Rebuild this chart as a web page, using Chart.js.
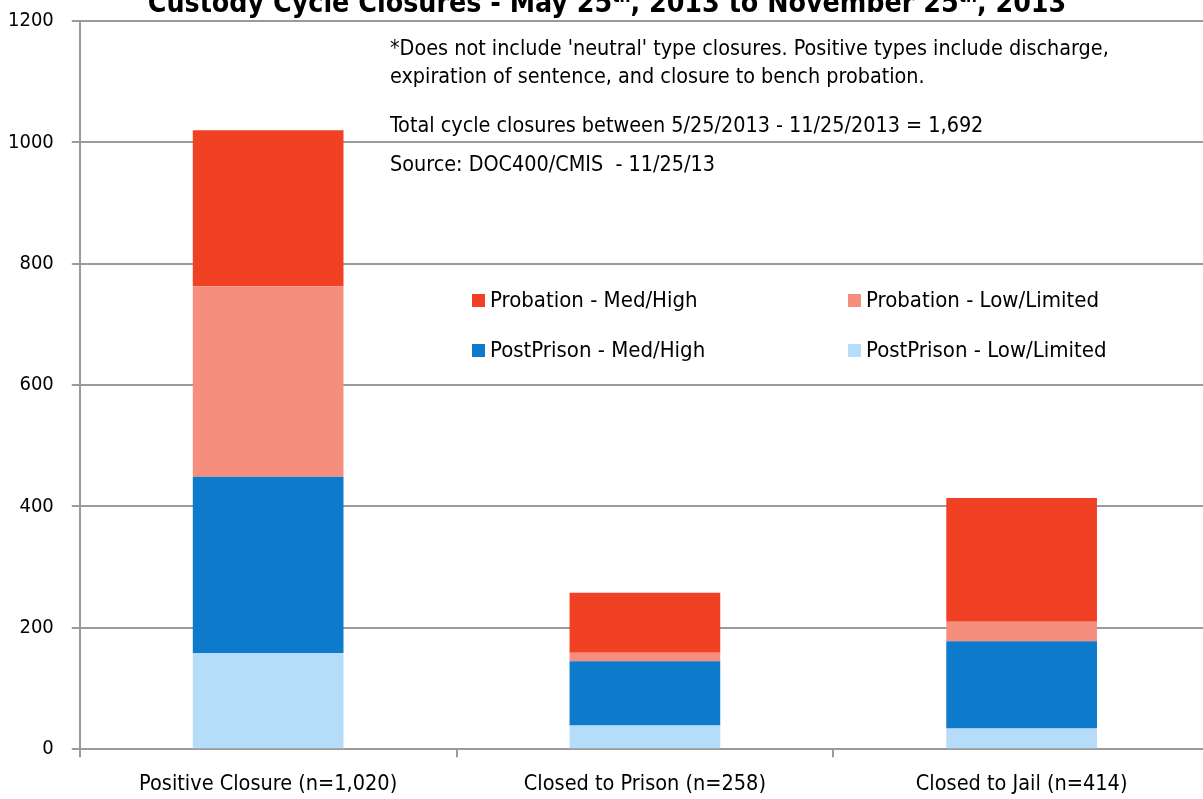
<!DOCTYPE html>
<html>
<head>
<meta charset="utf-8">
<title>Custody Cycle Closures</title>
<script src="https://cdn.jsdelivr.net/npm/chart.js@4.4.0/dist/chart.umd.min.js"></script>
<style>
    html, body { margin: 0; padding: 0; background: #fff; overflow: hidden; }
    #wrap { position: relative; top: -9px; width: 1210px; height: 824px; }
</style>
</head>
<body>
<div id="wrap"><canvas id="closuresChart"></canvas></div>
<script>
// Chart data
const categories = ['Positive Closure (n=1,020)', 'Closed to Prison (n=258)', 'Closed to Jail (n=414)'];
const postPrisonLow = [158, 39, 34];
const postPrisonMed = [291, 106, 144];
const probationLow = [314, 14, 32];
const probationMed = [257, 99, 204];

const titleParts = [
    ['Custody Cycle Closures - May 25', false],
    ['th', true],
    [', 2013 to November 25', false],
    ['th', true],
    [', 2013', false]
];
const noteLines = [
    "*Does not include 'neutral' type closures. Positive types include discharge,",
    'expiration of sentence, and closure to bench probation.',
    'Total cycle closures between 5/25/2013 - 11/25/2013 = 1,692',
    'Source: DOC400/CMIS  - 11/25/13'
];

const FONT = "'Liberation Sans Narrow', 'Arial Narrow', 'DejaVu Sans Condensed', sans-serif";
const GRID = '#9a9a9a';

// Title, notes and legend drawn on the canvas
// (canvas sits 9px above the page top, hence the +9 offsets)
const overlayPlugin = {
    id: 'overlay',
    afterDraw(chart) {
        const ctx = chart.ctx;
        ctx.save();
        ctx.fillStyle = '#000';
        ctx.textBaseline = 'alphabetic';
        ctx.textAlign = 'left';

        // title (cut off at the top like the original)
        const big = 'bold 28.3px ' + FONT;
        const small = 'bold 17px ' + FONT;
        let total = 0;
        titleParts.forEach(p => {
            ctx.font = p[1] ? small : big;
            total += ctx.measureText(p[0]).width;
        });
        let x = 607 - total / 2;
        titleParts.forEach(p => {
            ctx.font = p[1] ? small : big;
            ctx.fillText(p[0], x, p[1] ? 11 : 21);
            x += ctx.measureText(p[0]).width;
        });

        // notes
        ctx.font = '21.4px ' + FONT;
        const noteY = [64, 92, 141, 180];
        noteLines.forEach((line, i) => ctx.fillText(line, 390, noteY[i]));

        // legend, 2 x 2
        const order = [3, 2, 1, 0];
        const colX = [472, 848];
        const rowY = [309, 359];
        ctx.font = '22px ' + FONT;
        ctx.textBaseline = 'middle';
        order.forEach((dsIndex, i) => {
            const ds = chart.data.datasets[dsIndex];
            const lx = colX[i % 2];
            const ly = rowY[Math.floor(i / 2)];
            ctx.fillStyle = ds.backgroundColor;
            ctx.fillRect(lx, ly - 6, 13, 13);
            ctx.fillStyle = '#000';
            ctx.fillText(ds.label, lx + 18, ly + 1);
        });
        ctx.restore();
    }
};

const ctx = document.getElementById('closuresChart').getContext('2d');
new Chart(ctx, {
    type: 'bar',
    data: {
        labels: categories,
        datasets: [
            { label: 'PostPrison - Low/Limited', data: postPrisonLow, backgroundColor: '#b5dcf9' },
            { label: 'PostPrison - Med/High', data: postPrisonMed, backgroundColor: '#0e7acb' },
            { label: 'Probation - Low/Limited', data: probationLow, backgroundColor: '#f68e7d' },
            { label: 'Probation - Med/High', data: probationMed, backgroundColor: '#f04124' }
        ]
    },
    options: {
        responsive: true,
        maintainAspectRatio: false,
        animation: false,
        layout: {
            padding: { top: 0, left: -10, right: 0, bottom: 4 }
        },
        datasets: {
            bar: {
                categoryPercentage: 1,
                barPercentage: 0.4,
                borderWidth: 0
            }
        },
        scales: {
            x: {
                stacked: true,
                grid: {
                    offset: true,
                    drawOnChartArea: false,
                    color: GRID,
                    lineWidth: 2,
                    tickLength: 8
                },
                border: { color: GRID, width: 2 },
                ticks: {
                    color: '#000',
                    padding: 14,
                    font: { family: FONT, size: 21.5 }
                }
            },
            y: {
                stacked: true,
                min: 0,
                max: 1200,
                ticks: {
                    stepSize: 200,
                    color: '#000',
                    padding: 18,
                    font: { family: FONT, size: 20 },
                    callback: value => String(value)
                },
                grid: {
                    color: GRID,
                    lineWidth: 2,
                    tickLength: 8
                },
                border: { color: GRID, width: 2 }
            }
        },
        plugins: {
            legend: { display: false },
            title: { display: false },
            tooltip: { enabled: false }
        }
    },
    plugins: [overlayPlugin]
});
</script>
</body>
</html>
